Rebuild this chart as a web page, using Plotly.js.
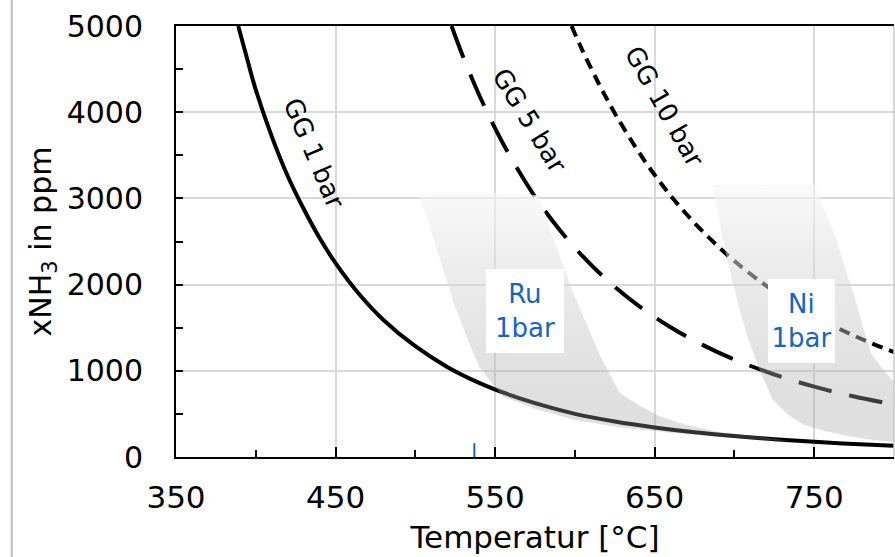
<!DOCTYPE html>
<html><head><meta charset="utf-8">
<script src="https://cdn.plot.ly/plotly-3.0.1.min.js"></script>
<style>html,body{margin:0;padding:0;background:#fff;} #chart{width:895px;height:557px;}</style>
</head><body><div id="chart"></div>
<script>
// Equilibrium curves (temperature in °C, xNH3 in ppm)
const gg1Temp = [389, 395, 400, 410, 420, 430, 440, 450, 465, 480, 500, 520, 540, 560, 580, 600, 625, 650, 675, 700, 725, 750, 775, 800];
const gg1Ppm  = [5000, 4590, 4260, 3720, 3260, 2880, 2540, 2250, 1885, 1590, 1285, 1045, 860, 715, 598, 500, 412, 343, 287, 243, 206, 176, 151, 130];

const gg5Temp = [522.7, 530, 540, 550, 560, 575, 590, 605, 620, 640, 660, 680, 700, 725, 750, 775, 800];
const gg5Ppm  = [5000, 4640, 4200, 3813, 3470, 3020, 2645, 2327, 2055, 1753, 1506, 1301, 1131, 957, 816, 702, 608];

const gg10Temp = [597.9, 605, 615, 625, 640, 655, 670, 685, 700, 720, 740, 760, 780, 800];
const gg10Ppm  = [5000, 4706, 4330, 3989, 3538, 3149, 2816, 2527, 2273, 1986, 1744, 1540, 1366, 1216];

// Catalyst operating bands (outline of shaded areas)
const ruBandTemp = [502, 506, 511, 517, 524, 532, 540, 547, 555, 575, 600, 630, 660, 690, 720, 735, 720, 690, 670, 653, 640, 628, 616, 599, 586, 580, 576, 540];
const ruBandPpm  = [3060, 2850, 2560, 2200, 1790, 1400, 1050, 880, 700, 560, 430, 340, 280, 235, 195, 185, 225, 290, 370, 473, 600, 744, 1168, 1902, 2558, 2900, 3040, 3065];

const niBandTemp = [686, 750, 757, 764, 770, 776.5, 781, 786, 793, 800, 800, 786, 772, 757, 743, 733, 724, 716, 708, 702, 697, 692, 688];
const niBandPpm  = [3158, 3158, 2850, 2520, 2150, 1787, 1480, 1188, 1020, 870, 170, 200, 241, 300, 377, 500, 666, 1000, 1400, 1800, 2173, 2600, 3000];

const markerTemp = [537, 537];
const markerPpm  = [0, 160];

const xTickVals = [350, 450, 550, 650, 750];
const yTickVals = [0, 1000, 2000, 3000, 4000, 5000];

const FONT = 'DejaVu Sans, Verdana, sans-serif';
const BLUE = '#1565c0';
const bandScale = [[0, 'rgba(150,150,150,0.3)'], [0.45, 'rgba(200,200,200,0.47)'], [1, 'rgba(246,246,246,0.62)']];

const traces = [
  {x: gg1Temp, y: gg1Ppm, mode: 'lines', line: {color: '#000', width: 4, shape: 'spline', smoothing: 1}},
  {x: gg5Temp, y: gg5Ppm, mode: 'lines', line: {color: '#000', width: 4, dash: '34px,18px', shape: 'spline', smoothing: 1}},
  {x: gg10Temp, y: gg10Ppm, mode: 'lines', line: {color: '#000', width: 4, dash: '11px,7px', shape: 'spline', smoothing: 1}},
  {x: ruBandTemp, y: ruBandPpm, mode: 'lines', fill: 'toself', line: {width: 0, color: 'rgba(0,0,0,0)'},
   fillgradient: {type: 'vertical', colorscale: bandScale}},
  {x: niBandTemp, y: niBandPpm, mode: 'lines', fill: 'toself', line: {width: 0, color: 'rgba(0,0,0,0)'},
   fillgradient: {type: 'vertical', colorscale: bandScale}},
  {x: markerTemp, y: markerPpm, mode: 'lines', line: {color: BLUE, width: 2}}
];

const layout = {
  width: 895, height: 557,
  margin: {l: 176, r: 1, t: 26, b: 100},
  paper_bgcolor: '#fff', plot_bgcolor: '#fff',
  showlegend: false,
  font: {family: FONT, color: '#000'},
  xaxis: {
    range: [350, 800], tickmode: 'array', tickvals: xTickVals,
    ticks: 'inside', ticklen: 10, tickwidth: 2, tickcolor: '#000',
    showline: true, linewidth: 2, linecolor: '#000', mirror: true,
    showgrid: true, gridcolor: '#d9d9d9', gridwidth: 2, zeroline: false,
    minor: {dtick: 50, tick0: 350, ticks: 'inside', ticklen: 7, tickwidth: 2, tickcolor: '#000', showgrid: false},
    tickfont: {family: FONT, size: 31, color: '#000'}, ticklabelstandoff: 12,
    title: {text: 'Temperatur [°C]', font: {family: FONT, size: 31, color: '#000'}, standoff: 12}
  },
  yaxis: {
    range: [0, 5000], tickmode: 'array', tickvals: yTickVals,
    ticks: 'inside', ticklen: 7, tickwidth: 2, tickcolor: '#000',
    showline: true, linewidth: 2, linecolor: '#000', mirror: false,
    showgrid: true, gridcolor: '#d9d9d9', gridwidth: 2, zeroline: false,
    minor: {dtick: 500, tick0: 0, ticks: 'inside', ticklen: 7, tickwidth: 2, tickcolor: '#000', showgrid: false},
    tickfont: {family: FONT, size: 30, color: '#000'}, ticklabelstandoff: 25,
    title: {text: 'xNH<sub>3</sub> in ppm', font: {family: FONT, size: 30, color: '#000'}, standoff: 6}
  },
  shapes: [
    {type: 'line', xref: 'paper', yref: 'paper', x0: 1, x1: 1, y0: 0, y1: 1, line: {color: '#c8c8c8', width: 1.5}},
    {type: 'line', xref: 'paper', yref: 'paper', x0: -0.2288, x1: -0.2288, y0: -0.235, y1: 1.065, line: {color: '#bdbdbd', width: 2}}
  ],
  annotations: [
    {x: 436.5, y: 3528, text: 'GG 1 bar', textangle: 67, showarrow: false, font: {family: FONT, size: 26, color: '#000'}},
    {x: 571.8, y: 3899, text: 'GG 5 bar', textangle: 58.6, showarrow: false, font: {family: FONT, size: 26, color: '#000'}},
    {x: 656.4, y: 4065, text: 'GG 10 bar', textangle: 60.8, showarrow: false, font: {family: FONT, size: 26, color: '#000'}},
    {x: 568.7, y: 1694, text: 'Ru<br>1bar', showarrow: false, bgcolor: '#fff', borderpad: 0, borderwidth: 0,
     width: 78, height: 84, font: {family: FONT, size: 26, color: BLUE}},
    {x: 742.2, y: 1578, text: 'Ni<br>1bar', showarrow: false, bgcolor: '#fff', borderpad: 0, borderwidth: 0,
     width: 67, height: 84, font: {family: FONT, size: 26, color: BLUE}}
  ]
};

Plotly.newPlot('chart', traces, layout, {displayModeBar: false, staticPlot: true});
</script>
</body></html>
